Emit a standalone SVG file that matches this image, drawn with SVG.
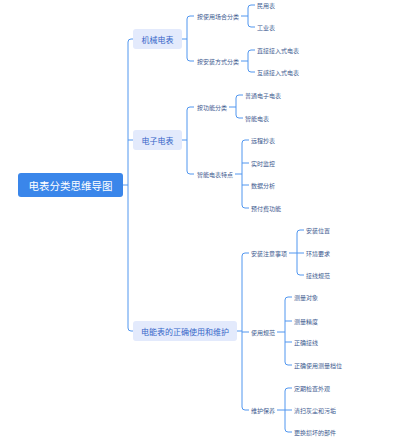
<svg xmlns="http://www.w3.org/2000/svg" width="400" height="444" viewBox="0 0 400 444">
<style>
text{font-family:"Noto Sans CJK SC","Noto Sans",sans-serif;dominant-baseline:central}
.root rect{fill:#3a86ea}
.root text{fill:#fff;font-size:10.5px;text-anchor:middle}
.l1 rect{fill:#e3eafc}
.l1 text{fill:#3566c8;font-size:8px;text-anchor:middle}
.lb{fill:#3d5a8f;font-size:6px}
#connectors path{fill:none;stroke:#5096ef;stroke-width:1}
</style>
<rect width="400" height="444" fill="#fff"/>
<g id="connectors">
<path d="M123,185 H128"/>
<path d="M133,39 H131 Q128,39 128,42 V328 Q128,331 131,331 H133 M128,140 H133"/>
<path d="M182,39 H187 M194,16 H190 Q187,16 187,19 V58 Q187,61 190,61 H194"/>
<path d="M241,16 H248 M255,5 H251 Q248,5 248,8 V24 Q248,27 251,27 H255"/>
<path d="M241,61 H248 M255,50 H251 Q248,50 248,53 V69 Q248,72 251,72 H255"/>
<path d="M182,140 H187 M194,107 H190 Q187,107 187,110 V171 Q187,174 190,174 H194"/>
<path d="M229,107 H236 M243,95 H239 Q236,95 236,98 V115 Q236,118 239,118 H243"/>
<path d="M235,174 H242 M249,140 H245 Q242,140 242,143 V205 Q242,208 245,208 H249 M242,163 H249 M242,185 H249"/>
<path d="M237,331 H242 M249,253 H245 Q242,253 242,256 V407 Q242,410 245,410 H249 M242,332 H249"/>
<path d="M289,253 H297 M304,230 H300 Q297,230 297,233 V272 Q297,275 300,275 H304 M297,253 H304"/>
<path d="M277,332 H285 M292,297 H288 Q285,297 285,300 V362 Q285,365 288,365 H292 M285,321 H292 M285,342 H292"/>
<path d="M277,410 H285 M292,388 H288 Q285,388 285,391 V429 Q285,432 288,432 H292 M285,410 H292"/>
</g>
<g id="root" class="root"><rect x="18" y="173" width="105" height="24" rx="3"/><text x="70.5" y="185">电表分类思维导图</text></g>
<g id="n-jixie" class="l1"><rect x="133" y="29" width="49" height="20" rx="3"/><text x="157.5" y="39">机械电表</text></g>
<g id="n-dianzi" class="l1"><rect x="133" y="130" width="49" height="20" rx="3"/><text x="157.5" y="140">电子电表</text></g>
<g id="n-weihu" class="l1"><rect x="133" y="321" width="104" height="20" rx="3"/><text x="185" y="331">电能表的正确使用和维护</text></g>
<g id="n-changhe"><text class="lb" x="197" y="16">按使用场合分类</text></g>
<g id="n-minyong"><text class="lb" x="257" y="5">民用表</text></g>
<g id="n-gongye"><text class="lb" x="257" y="27">工业表</text></g>
<g id="n-anzhuangfs"><text class="lb" x="197" y="61">按安装方式分类</text></g>
<g id="n-zhijie"><text class="lb" x="257" y="50">直接接入式电表</text></g>
<g id="n-hugan"><text class="lb" x="257" y="72">互感接入式电表</text></g>
<g id="n-gongneng"><text class="lb" x="197" y="107">按功能分类</text></g>
<g id="n-putong"><text class="lb" x="245" y="95">普通电子电表</text></g>
<g id="n-zhineng"><text class="lb" x="245" y="118">智能电表</text></g>
<g id="n-tedian"><text class="lb" x="197" y="174">智能电表特点</text></g>
<g id="n-yuancheng"><text class="lb" x="251" y="140">远程抄表</text></g>
<g id="n-shishi"><text class="lb" x="251" y="163">实时监控</text></g>
<g id="n-shuju"><text class="lb" x="251" y="185">数据分析</text></g>
<g id="n-yufu"><text class="lb" x="251" y="208">预付费功能</text></g>
<g id="n-zhuyi"><text class="lb" x="251" y="253">安装注意事项</text></g>
<g id="n-weizhi"><text class="lb" x="306" y="230">安装位置</text></g>
<g id="n-huanjing"><text class="lb" x="306" y="253">环境要求</text></g>
<g id="n-jiexian"><text class="lb" x="306" y="275">接线规范</text></g>
<g id="n-guifan"><text class="lb" x="251" y="332">使用规范</text></g>
<g id="n-duixiang"><text class="lb" x="294" y="297">测量对象</text></g>
<g id="n-jingdu"><text class="lb" x="294" y="321">测量精度</text></g>
<g id="n-zhengque"><text class="lb" x="294" y="342">正确接线</text></g>
<g id="n-dangwei"><text class="lb" x="294" y="365">正确使用测量档位</text></g>
<g id="n-baoyang"><text class="lb" x="251" y="410">维护保养</text></g>
<g id="n-waiguan"><text class="lb" x="294" y="388">定期检查外观</text></g>
<g id="n-qingsao"><text class="lb" x="294" y="410">清扫灰尘和污垢</text></g>
<g id="n-genghuan"><text class="lb" x="294" y="432">更换损坏的部件</text></g>
</svg>
